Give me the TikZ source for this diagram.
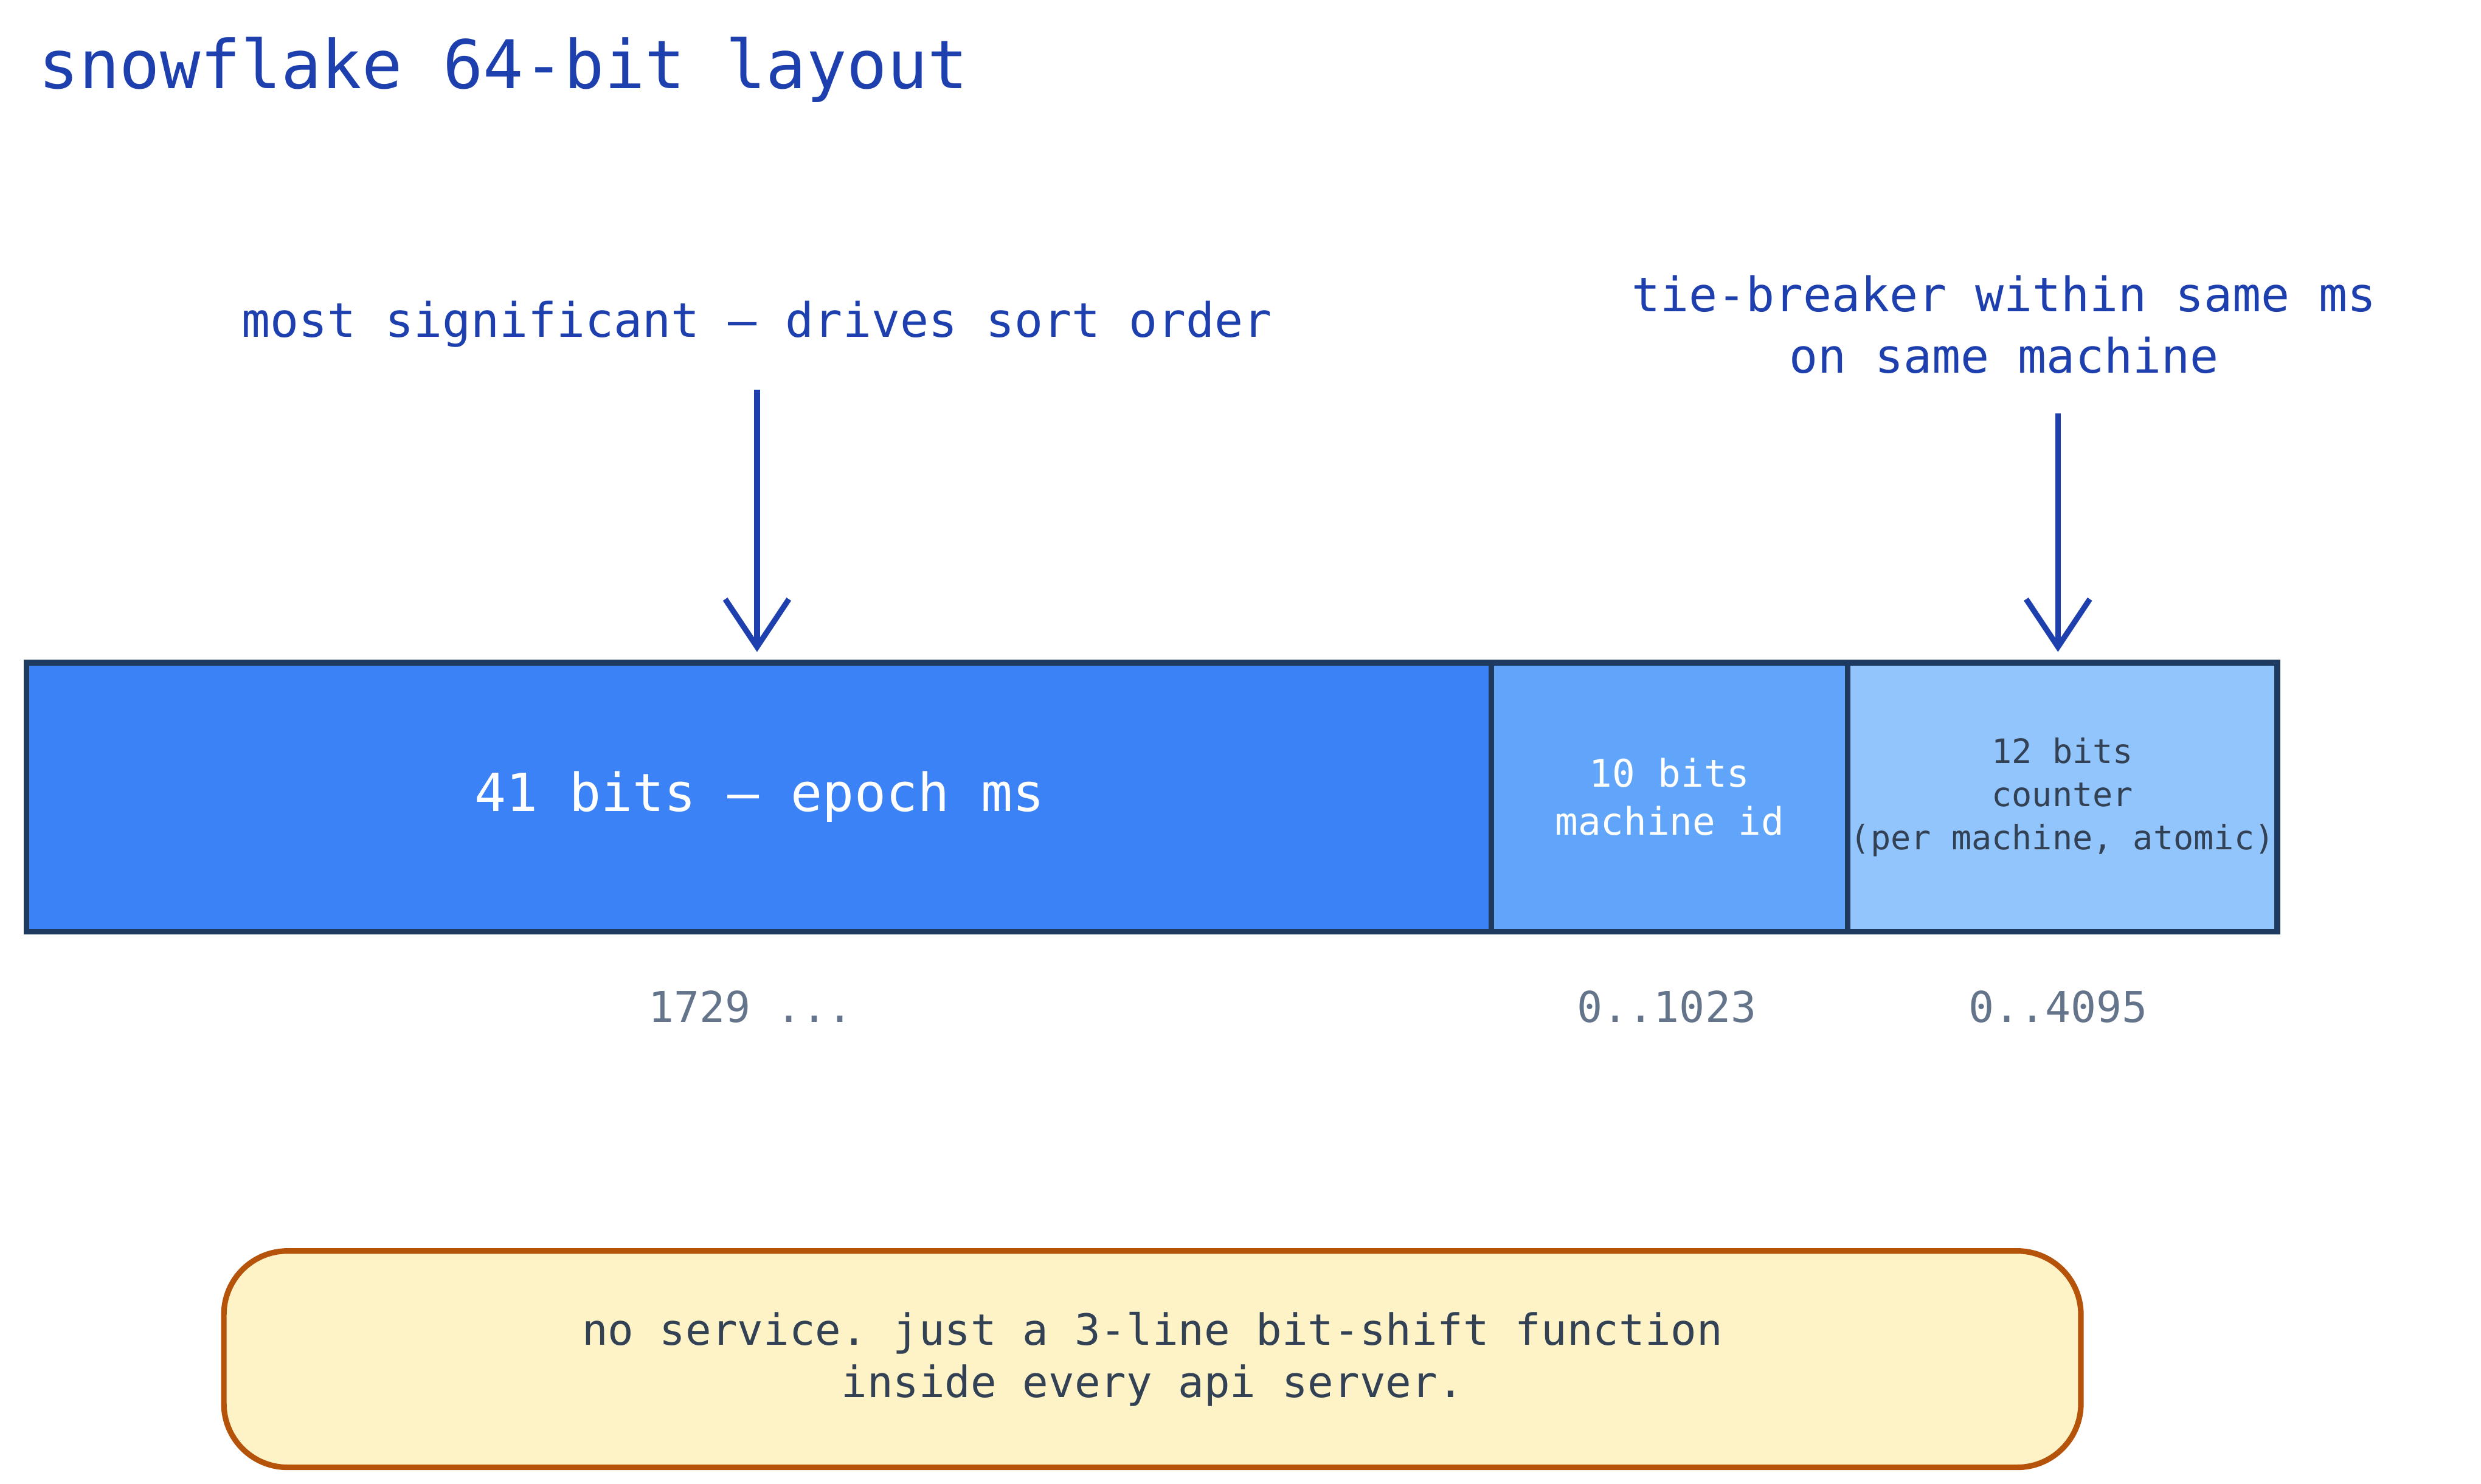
\documentclass[tikz,border=0pt]{standalone}
\usepackage{fontspec}
\setmonofont{DejaVu Sans Mono}
\usetikzlibrary{arrows.meta}
\definecolor{titleblue}{HTML}{1E40AF}
\definecolor{epochblue}{HTML}{3B82F6}
\definecolor{machblue}{HTML}{60A5FA}
\definecolor{countblue}{HTML}{93C5FD}
\definecolor{barline}{HTML}{1E3A5F}
\definecolor{notefill}{HTML}{FEF3C7}
\definecolor{noteline}{HTML}{B45309}
\definecolor{grey}{HTML}{64748B}
\definecolor{ink}{HTML}{334155}
\tikzset{
  field/.style={draw=barline,line width=1pt,inner sep=0pt,anchor=north west,font=\ttfamily},
  hint/.style={text=titleblue,font=\ttfamily\fontsize{8.5}{11}\selectfont,align=center},
  bitrange/.style={text=grey,font=\ttfamily\fontsize{7.6}{9}\selectfont},
  pointer/.style={-{Straight Barb[length=3mm,width=4mm]},titleblue,line width=1pt}
}
\begin{document}
\begin{tikzpicture}[x=0.01cm,y=-0.01cm]
  \useasboundingbox (0,0) rectangle (1560,933);
  \node[anchor=west,text=titleblue,font=\ttfamily\fontsize{12}{14}\selectfont] (title) at (12,44) {snowflake 64-bit layout};

  \node[field,fill=epochblue,minimum width=9.21cm,minimum height=1.69cm,text=white,font=\ttfamily\fontsize{9.4}{11}\selectfont] (epoch) at (15,415) {41 bits — epoch ms};
  \node[field,fill=machblue,minimum width=2.24cm,minimum height=1.69cm,text=white,font=\ttfamily\fontsize{6.8}{8.6}\selectfont,align=center] (mach) at (936,415) {10 bits\\machine id};
  \node[field,fill=countblue,minimum width=2.70cm,minimum height=1.69cm,text=ink,font=\ttfamily\fontsize{6}{7.7}\selectfont,align=center] (count) at (1160,415) {12 bits\\counter\\(per machine, atomic)};

  \node[hint] (msb) at (476,204) {most significant — drives sort order};
  \node[hint] (tie) at (1260,204) {tie-breaker within same ms\\on same machine};
  \coordinate (msbtail) at (476,245);
  \coordinate (tietail) at (1294,260);
  \coordinate (msbtip) at (476,410);
  \coordinate (tietip) at (1294,410);
  \draw[pointer] (msbtail) -- (msbtip);
  \draw[pointer] (tietail) -- (tietip);

  \node[bitrange] (r1) at (472,633) {1729 ...};
  \node[bitrange] (r2) at (1048,633) {0..1023};
  \node[bitrange] (r3) at (1294,633) {0..4095};

  \node[draw=noteline,fill=notefill,line width=1pt,rounded corners=0.4cm,minimum width=11.67cm,minimum height=1.36cm,anchor=north west,text=ink,font=\ttfamily\fontsize{7.7}{9.4}\selectfont,align=center] (note) at (139,785) {no service. just a 3-line bit-shift function\\inside every api server.};
\end{tikzpicture}
\end{document}
